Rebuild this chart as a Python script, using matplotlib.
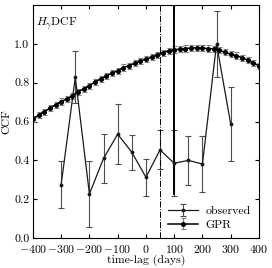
import matplotlib
matplotlib.use('Agg')
import matplotlib.pyplot as plt
import numpy as np

plt.rcParams.update({
    'font.family': 'cmr10',
    'mathtext.fontset': 'cm',
    'axes.formatter.use_mathtext': True,
    'font.size': 8.5,
    'xtick.direction': 'in',
    'ytick.direction': 'in',
    'xtick.top': True,
    'ytick.right': True,
    'xtick.major.size': 3,
    'ytick.major.size': 3,
    'xtick.major.pad': 3.5,
    'ytick.major.pad': 2.5,
    'axes.linewidth': 0.8,
})

# observed DCF
obs_lag = [-300, -250, -200, -150, -100, -50, 0, 50, 100, 150, 200, 250, 300]
obs_ccf = [0.275, 0.828, 0.227, 0.41, 0.535, 0.442, 0.313, 0.454, 0.385, 0.40, 0.381, 1.0, 0.588]
obs_err = [0.12, 0.135, 0.17, 0.125, 0.155, 0.09, 0.095, 0.10, 0.17, 0.125, 0.145, 0.17, 0.19]

# GPR curve, every 20 days
gpr_lag = np.arange(-400, 401, 20)
gpr_ccf = [0.612, 0.632, 0.651, 0.668, 0.686, 0.703, 0.716, 0.732, 0.754, 0.768,
           0.785, 0.804, 0.820, 0.835, 0.849, 0.862, 0.878, 0.888, 0.900, 0.911,
           0.922, 0.931, 0.943, 0.955, 0.964, 0.971, 0.972, 0.976, 0.979, 0.979,
           0.978, 0.976, 0.974, 0.967, 0.957, 0.947, 0.940, 0.929, 0.916, 0.902, 0.888]
gpr_err = 0.016

fig = plt.figure(figsize=(2.72, 2.68), dpi=100)
ax = fig.add_axes([0.121, 0.112, 0.831, 0.869])

ax.errorbar(obs_lag, obs_ccf, yerr=obs_err, color='0.1', ecolor='0.3', lw=0.9,
            elinewidth=0.8, capsize=2.5, capthick=0.8, marker='.', ms=3.5,
            label='observed')
ax.errorbar(gpr_lag, gpr_ccf, yerr=gpr_err, color='k', ecolor='0.5', lw=1.1,
            elinewidth=0.8, capsize=1.8, capthick=0.8, marker='o', ms=2.6,
            label='GPR')

ax.axvline(50, color='k', ls='-.', lw=0.7)
ax.vlines(100, 0.22, 1.2, color='k', lw=1.4)

ax.set_xlim(-400, 400)
ax.set_ylim(0, 1.2)
ax.set_xticks(np.arange(-400, 401, 100))
ax.set_yticks(np.arange(0, 1.01, 0.2))
ax.set_yticklabels(['0.0', '0.2', '0.4', '0.6', '0.8', '1.0'])
ax.set_xlabel('time-lag (days)', labelpad=0)
ax.set_ylabel('CCF', labelpad=2)
ax.text(0.015, 0.955, r'$H_\gamma$DCF', transform=ax.transAxes, va='top', ha='left')

ax.legend(loc='lower right', frameon=False, handlelength=2.6,
          borderaxespad=0.3, labelspacing=0.3, handletextpad=0.6)

fig.savefig('out.png', dpi=100)
